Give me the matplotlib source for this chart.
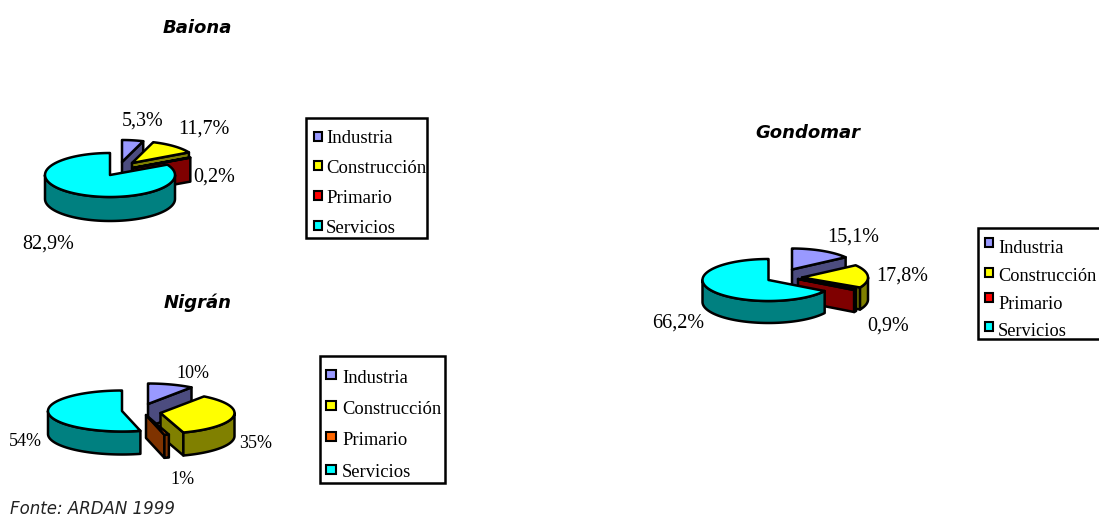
import numpy as np
import matplotlib
matplotlib.use("Agg")
import matplotlib.pyplot as plt
from matplotlib.patches import Polygon, Rectangle

categories = ["Industria", "Construcción", "Primario", "Servicios"]
baiona_values = [5.3, 11.7, 0.2, 82.9]
baiona_labels = ["5,3%", "11,7%", "0,2%", "82,9%"]
nigran_values = [10, 35, 1, 54]
nigran_labels = ["10%", "35%", "1%", "54%"]
gondomar_values = [15.1, 17.8, 0.9, 66.2]
gondomar_labels = ["15,1%", "17,8%", "0,9%", "66,2%"]

TOP = ["#9999FF", "#FFFF00", "#800000", "#00FFFF"]
SIDE = ["#4C4C7F", "#808000", "#7F0000", "#008080"]
NIG_TOP = ["#9999FF", "#FFFF00", "#FF6600", "#00FFFF"]
NIG_SIDE = ["#4C4C7F", "#808000", "#7F3300", "#008080"]
KEY = ["#9999FF", "#FFFF00", "#FF0000", "#00FFFF"]
NIG_KEY = ["#9999FF", "#FFFF00", "#FF6600", "#00FFFF"]

SERIF = "Liberation Serif"
SANS = "DejaVu Sans"

fig = plt.figure(figsize=(10.99, 5.17), dpi=100)
ax = fig.add_axes([0, 0, 1, 1])
ax.set_xlim(0, 1099)
ax.set_ylim(517, 0)
ax.axis("off")


def pt(c, r, th):
    th = np.radians(th)
    return np.column_stack([c[0] + r[0] * np.sin(th), c[1] - r[1] * np.cos(th)])


def poly(xy, color, lw):
    ax.add_patch(Polygon(xy, closed=True, facecolor=color, edgecolor="black",
                         linewidth=lw, joinstyle="round"))


def pie3d(values, apexes, rx, ry, depth, top, side, lw=1.8):
    fr = np.cumsum([0] + list(values), dtype=float)
    fr = fr / fr[-1] * 360
    for i, c in enumerate(apexes):
        a, b = fr[i], fr[i + 1]
        r = (rx, ry)
        low = (c[0], c[1] + depth)
        if np.sin(np.radians(a)) < -1e-6:
            o = pt(c, r, a)[0]
            poly([c, o, (o[0], o[1] + depth), low], side[i], lw)
        if np.sin(np.radians(b)) > 1e-6:
            o = pt(c, r, b)[0]
            poly([c, o, (o[0], o[1] + depth), low], side[i], lw)
        f0, f1 = max(a, 90), min(b, 270)
        if f1 > f0:
            t = np.linspace(f0, f1, 60)
            up = pt(c, r, t)
            poly(np.vstack([up, pt(low, r, t)[::-1]]), side[i], lw)
        t = np.linspace(a, b, max(3, int(b - a)))
        poly(np.vstack([[c], pt(c, r, t)]), top[i], lw)


def legend(box, keys, text_x, ys, key_x, key_ys, key_w, colors, size):
    x0, y0, x1, y1 = box
    ax.add_patch(Rectangle((x0, y0), x1 - x0, y1 - y0, facecolor="white",
                           edgecolor="black", linewidth=1.8))
    for lab, y, ky, col in zip(keys, ys, key_ys, colors):
        ax.add_patch(Rectangle((key_x, ky), key_w, 9,
                               facecolor=col, edgecolor="black", linewidth=1.5))
        ax.text(text_x, y, lab, family=SERIF, fontsize=size, ha="left",
                va="center", color="black")


def labels(texts, xy, size):
    for s, (x, y) in zip(texts, xy):
        ax.text(x, y, s, family=SERIF, fontsize=size, ha="center", va="center",
                color="black")


# Baiona
pie3d(baiona_values, [(122, 162), (132, 163), (133, 168), (110, 175)],
      65, 22, 24, TOP, SIDE)
labels(baiona_labels, [(143, 121), (204, 129), (214, 177), (48, 244)], 14.5)

# Nigrán
pie3d(nigran_values, [(148, 404), (160.5, 413), (146, 415), (122, 411)],
      74, 20.5, 23, NIG_TOP, NIG_SIDE)
labels(nigran_labels, [(193, 374), (256, 444), (182, 479), (25, 441)], 13)

# Gondomar
pie3d(gondomar_values, [(792, 269.5), (802, 277.5), (798, 279), (768.5, 280)],
      66, 21, 22, TOP, SIDE)
labels(gondomar_labels, [(853, 237), (902, 276), (888, 326), (678, 323)], 14.5)

legend((306, 118, 427, 238), categories, 326, [138.5, 168.5, 198.5, 228.5],
       314, [132, 161, 191, 221], 8, KEY, 13.5)
legend((320, 356, 445, 483), categories, 342, [378.5, 409.5, 440.5, 472.5],
       326, [370, 401, 432, 465], 10, NIG_KEY, 13.3)
legend((978, 228, 1104, 339), categories, 998, [248.5, 276.5, 304.5, 331],
       985, [238, 268, 293, 322], 8, KEY, 13.2)

# Titles
for s, x, y in [("Baiona", 197, 28), ("Nigrán", 198, 303), ("Gondomar", 808, 133)]:
    ax.text(x, y, s, family=SANS, fontsize=13, style="italic", weight="bold",
            ha="center", va="center", color="black")
ax.text(10, 508.5, "Fonte: ARDAN 1999", family=SANS, fontsize=12, style="italic",
        ha="left", va="center", color="#222222")

fig.savefig("out.png", dpi=100)
